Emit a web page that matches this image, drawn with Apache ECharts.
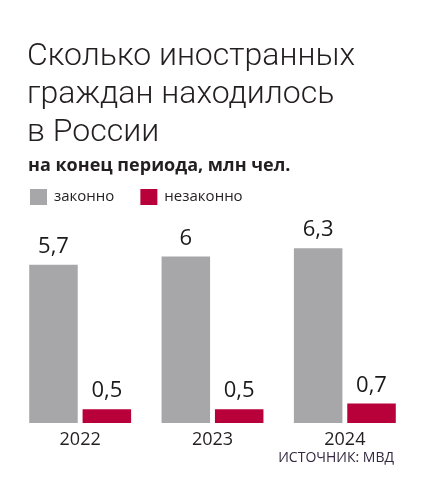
<!DOCTYPE html>
<html>
<head>
<meta charset="utf-8">
<script src="https://cdn.jsdelivr.net/npm/echarts@6/dist/echarts.min.js"></script>
<style>
  html, body { margin: 0; padding: 0; background: #fff; }
  #chart { width: 423px; height: 495px; }
</style>
</head>
<body>
<div id="chart"></div>
<script>
// данные диаграммы
const years = ['2022', '2023', '2024'];
const legalValues = [5.7, 6, 6.3];    // законно
const illegalValues = [0.5, 0.5, 0.7]; // незаконно
const seriesNames = ['законно', 'незаконно'];

const FONT = '"Open Sans", "Noto Sans", sans-serif';
const fmt = v => String(v.value).replace('.', ',');

const myChart = echarts.init(document.getElementById('chart'));
myChart.setOption({
  backgroundColor: '#ffffff',
  animation: false,
  title: [
    {
      text: 'Сколько иностранных\nграждан находилось\nв России',
      left: 22, top: 33,
      textStyle: { fontFamily: 'Roboto, ' + FONT, fontWeight: 300, fontSize: 32, lineHeight: 38, color: '#231f20' }
    },
    {
      text: 'на конец периода, млн чел.',
      left: 23, top: 152,
      textStyle: { fontFamily: FONT, fontWeight: 'bold', fontSize: 18, color: '#231f20' }
    }
  ],
  legend: {
    data: seriesNames,
    left: 25, top: 184,
    icon: 'rect', itemWidth: 17, itemHeight: 16, itemGap: 26,
    textStyle: { fontFamily: FONT, fontSize: 15, color: '#231f20', padding: [0, 0, 0, 2] }
  },
  grid: { left: 14, right: 12, top: 201, bottom: 72 },
  xAxis: {
    type: 'category',
    data: years,
    axisLine: { show: false },
    axisTick: { show: false },
    axisLabel: { fontFamily: FONT, fontSize: 18, color: '#231f20', margin: 8 }
  },
  yAxis: { type: 'value', min: 0, max: 8, show: false, splitLine: { show: false } },
  series: [
    {
      name: seriesNames[0], type: 'bar', data: legalValues,
      barGap: '10%', barCategoryGap: '23%',
      itemStyle: { color: '#a7a7aa' },
      label: { show: true, position: 'top', distance: 7, formatter: fmt,
        fontFamily: FONT, fontSize: 22, color: '#1a1a1a' }
    },
    {
      name: seriesNames[1], type: 'bar', data: illegalValues,
      itemStyle: { color: '#b8003a' },
      label: { show: true, position: 'top', distance: 7, formatter: fmt,
        fontFamily: FONT, fontSize: 22, color: '#1a1a1a' }
    }
  ],
  graphic: [
    {
      type: 'text', right: 29, top: 451,
      style: { text: 'ИСТОЧНИК: МВД', fontFamily: FONT, fontSize: 14, fill: '#33283f' }
    }
  ]
});
</script>
</body>
</html>
